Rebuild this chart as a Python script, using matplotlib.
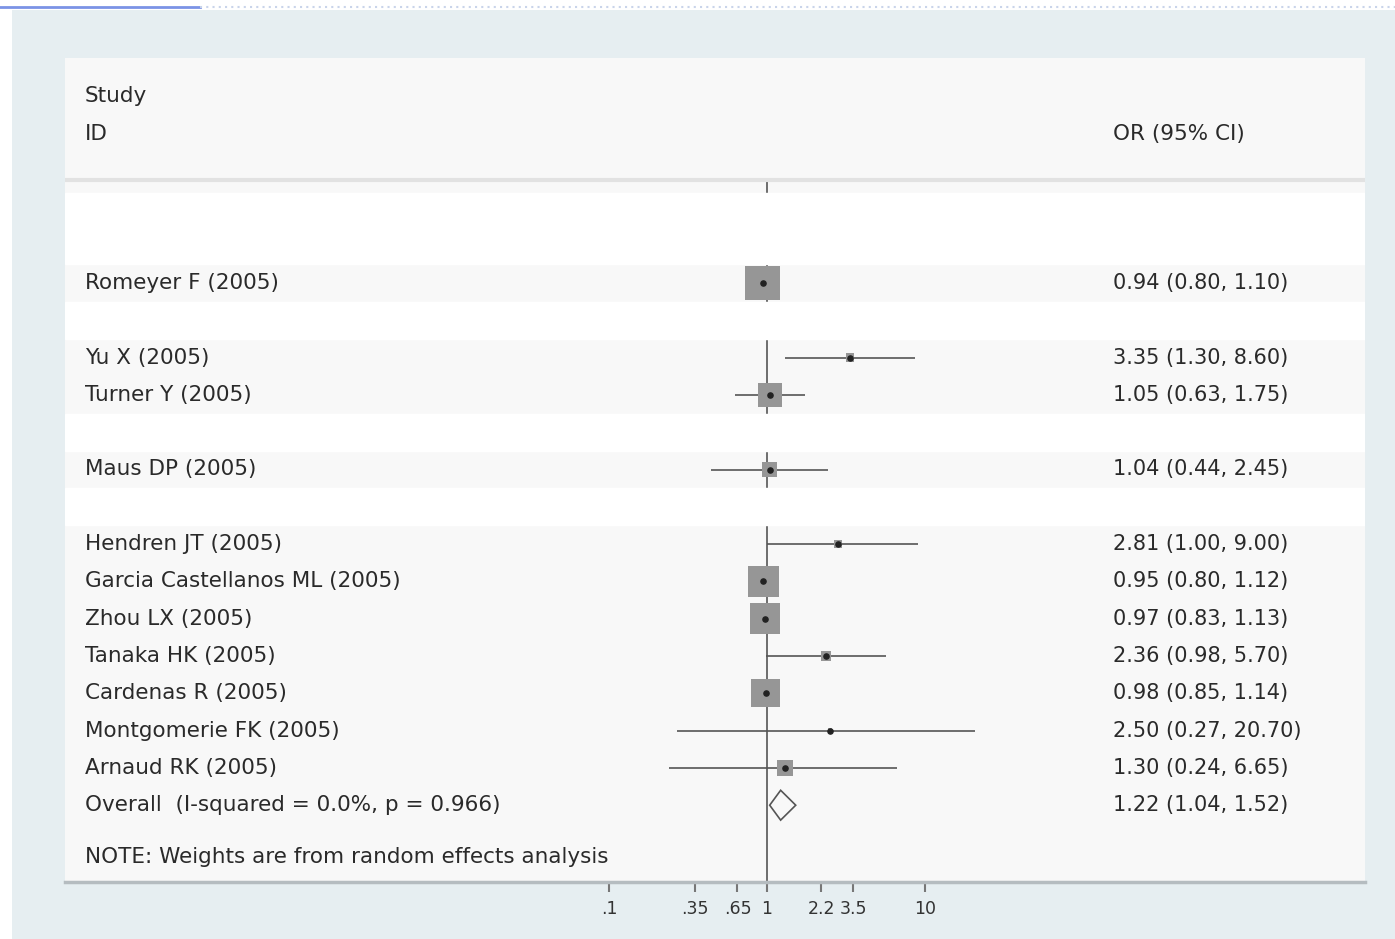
import numpy as np
import matplotlib
matplotlib.use("Agg")
import matplotlib.pyplot as plt
import matplotlib.transforms as mtransforms
from matplotlib.patches import Rectangle
from matplotlib.lines import Line2D

# study rows (row index counts text lines from the top of the panel)
studies = ["Romeyer F (2005)", "Yu X (2005)", "Turner Y (2005)", "Maus DP (2005)",
           "Hendren JT (2005)", "Garcia Castellanos ML (2005)", "Zhou LX (2005)",
           "Tanaka HK (2005)", "Cardenas R (2005)", "Montgomerie FK (2005)",
           "Arnaud RK (2005)"]
rows = [5, 7, 8, 10, 12, 13, 14, 15, 16, 17, 18]
odds = [0.94, 3.35, 1.05, 1.04, 2.81, 0.95, 0.97, 2.36, 0.98, 2.50, 1.30]
ci_low = [0.80, 1.30, 0.63, 0.44, 1.00, 0.80, 0.83, 0.98, 0.85, 0.27, 0.24]
ci_high = [1.10, 8.60, 1.75, 2.45, 9.00, 1.12, 1.13, 5.70, 1.14, 20.70, 6.65]
weights = [23.4, 1.5, 11.1, 4.5, 1.1, 17.9, 17.9, 2.2, 15.5, 0.4, 4.5]

overall_label = "Overall  (I-squared = 0.0%, p = 0.966)"
overall = [1.22, 1.04, 1.52]
overall_row = 19
note = "NOTE: Weights are from random effects analysis"
note_row = 20.4
blank_rows = [(2.6, 4.5), (5.5, 6.5), (8.5, 9.5), (10.5, 11.5)]

xticks = [0.1, 0.35, 0.65, 1, 2.2, 3.5, 10]
xticklabels = [".1", ".35", ".65", "1", "2.2", "3.5", "10"]

W, H = 1395, 939
fig = plt.figure(figsize=(W / 100, H / 100), dpi=100, facecolor="white")

# outer graph region (light blue-grey like Stata's s2color)
fig.add_artist(Rectangle((12 / W, 0), 1 - 12 / W, (H - 10) / H,
                         transform=fig.transFigure, facecolor="#e6eef1",
                         edgecolor="none", zorder=0))
# screenshot residue along the top edge
fig.add_artist(Line2D([0, 200 / W], [1 - 7 / H] * 2, transform=fig.transFigure,
                      color="#7b93e6", lw=2))
fig.add_artist(Line2D([200 / W, 1], [1 - 7 / H] * 2, transform=fig.transFigure,
                      color="#c9d4ea", lw=1.5, ls=(0, (1, 2))))

left, right, top, bottom = 65, 1365, 58, 882
ax = fig.add_axes([left / W, 1 - bottom / H, (right - left) / W, (bottom - top) / H])
ax.set_facecolor("#f8f8f8")

# x scale: 1 at pixel 767, 158 px per decade
px_dec = 158.0
ax.set_xscale("log")
ax.set_xlim(10 ** ((left - 767) / px_dec), 10 ** ((right - 767) / px_dec))
row_h = 37.3
ax.set_ylim((bottom - 96.5) / row_h, (top - 96.5) / row_h)

for a, b in blank_rows:
    ax.axhspan(a, b, color="white", zorder=2)

# null line and header separator
ax.vlines(1, 2.24, 2.6, color="#555555", lw=1.2, zorder=1)
ax.vlines(1, 4.5, ax.get_ylim()[0], color="#555555", lw=1.2, zorder=1)
ax.axhline(2.24, color="#e2e2e2", lw=3, zorder=1)

# confidence intervals, weight boxes and point estimates
ax.hlines(rows, ci_low, ci_high, color="#555555", lw=1.2, zorder=3)
side_pt = 7.2 * np.sqrt(np.array(weights)) * 72 / 100
ax.scatter(odds, rows, s=side_pt ** 2, marker="s", color="#969696",
           edgecolor="none", zorder=4)
ax.scatter(odds, rows, s=14, marker="o", color="#222222", zorder=5)

# pooled diamond
est, lo, hi = overall
ax.fill([lo, est, hi, est], [overall_row, overall_row - 0.4, overall_row, overall_row + 0.4],
        facecolor="none", edgecolor="#555555", lw=1.2, zorder=5)

# text columns
trans = mtransforms.blended_transform_factory(ax.transAxes, ax.transData)
lx = (85 - left) / (right - left)
rx = (1113 - left) / (right - left)
txt = dict(transform=trans, va="center", ha="left", color="#2a2a2a",
           fontfamily="DejaVu Sans", zorder=6)
ax.text(lx, 0, "Study", fontsize=15.5, **txt)
ax.text(lx, 1, "ID", fontsize=15.5, **txt)
ax.text(rx, 1, "OR (95% CI)", fontsize=15.5, **txt)
for name, r, o, l, h in zip(studies, rows, odds, ci_low, ci_high):
    ax.text(lx, r, name, fontsize=15.5, **txt)
    ax.text(rx, r, f"{o:.2f} ({l:.2f}, {h:.2f})", fontsize=15, **txt)
ax.text(lx, overall_row, overall_label, fontsize=15.5, **txt)
ax.text(rx, overall_row, f"{est:.2f} ({lo:.2f}, {hi:.2f})", fontsize=15, **txt)
ax.text(lx, note_row, note, fontsize=15.5, **txt)

# axis
for s in ["top", "left", "right"]:
    ax.spines[s].set_visible(False)
ax.spines["bottom"].set_color("#b5bcc0")
ax.spines["bottom"].set_linewidth(2.5)
ax.set_yticks([])
ax.set_xticks(xticks)
ax.set_xticklabels(xticklabels)
ax.xaxis.set_minor_locator(matplotlib.ticker.NullLocator())
ax.tick_params(axis="x", direction="out", length=7, width=1.5, color="#777777",
               labelsize=12.5, labelcolor="#333333", pad=6)

fig.savefig("out.png", dpi=100, facecolor="white")
